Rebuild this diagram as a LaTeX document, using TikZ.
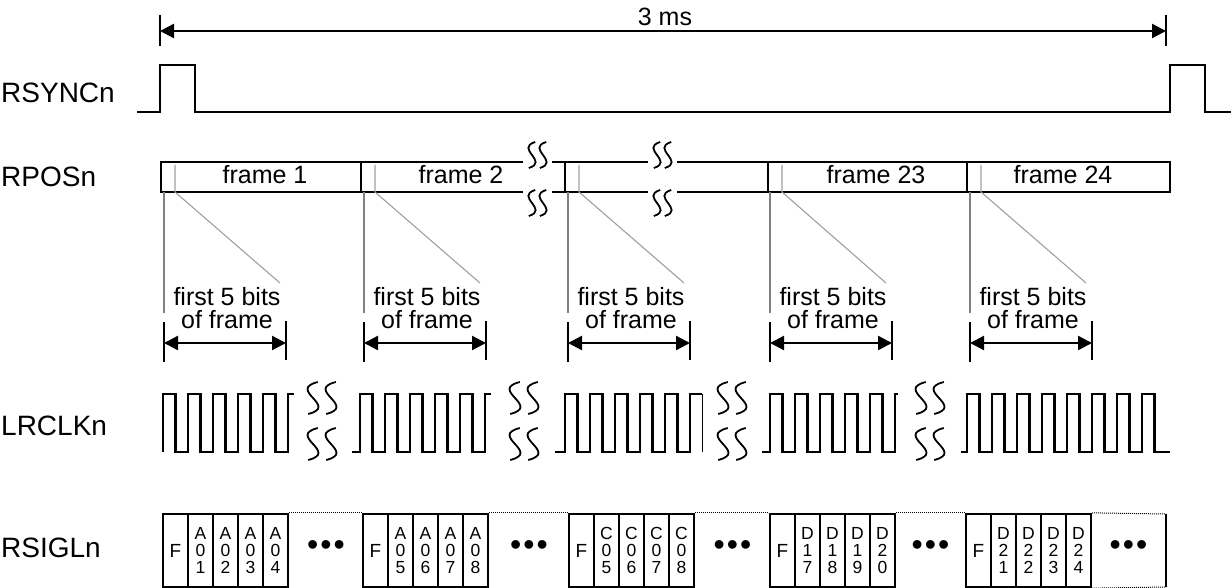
\documentclass[tikz,border=0pt]{standalone}
\usepackage{fontspec}
\setmainfont{Liberation Sans}
\usetikzlibrary{arrows.meta}
\tikzset{
	sig/.style   = {line width=2.3pt},
	cell/.style  = {draw, line width=2.3pt, minimum width=25pt, minimum height=73pt,
		inner sep=0pt, align=center, font=\fontsize{17.5}{17}\selectfont},
	fcell/.style = {cell, font=\fontsize{19}{19}\selectfont},
	lbl/.style   = {anchor=west, inner sep=0pt, font=\fontsize{28}{30}\selectfont},
	txt/.style   = {inner sep=0pt, align=center, font=\fontsize{25}{23}\selectfont},
	more/.style  = {inner sep=0pt, font=\fontsize{32}{32}\selectfont},
	dim/.style   = {line width=2.3pt, {Triangle[length=14pt,width=14pt]}-{Triangle[length=14pt,width=14pt]}},
	guide/.style = {gray, line width=1.8pt},
	hint/.style  = {gray!75, line width=1.1pt},
	brk/.style   = {line width=1.8pt},
	gap/.style   = {densely dotted, line width=1pt}
}
% one S of a break mark: centre x, centre y, bow, half height
\newcommand{\wavy}[4]{\draw[brk] (#1+0.4*#3,#2-#4) .. controls (#1-2.2*#3,#2-0.5*#4) and (#1+2.2*#3,#2+0.5*#4) .. (#1-0.4*#3,#2+#4);}
% first 5 bits of one frame: divider x, start of bracket x
\newcommand{\firstbits}[2]{
	\draw[guide] (#2,192) -- (#2,313);
	\draw[hint] (#1+14,165) -- (#1+14,192) -- (#2+116,283);
	\draw[sig] (#2,322) -- (#2,362) (#2+122,321) -- (#2+122,360);
	\draw[dim] (#2,343) -- (#2+122,343);
	\node[txt] at (#2+63,308) {first 5 bits\\of frame};
}

\begin{document}
\begin{tikzpicture}[x=1pt, y=-1pt]
	\useasboundingbox (0,0) rectangle (1231,588);
	\draw
	node at (1,93)  [lbl] (rsync) {RSYNCn}
	node at (1,177) [lbl] (rpos)  {RPOSn}
	node at (1,426) [lbl] (lrclk) {LRCLKn}
	node at (1,548) [lbl] (rsigl) {RSIGLn}
	node at (665,17) [txt] (period) {3 ms}
	node at (265,175) [txt] (fr1)  {frame 1}
	node at (461,175) [txt] (fr2)  {frame 2}
	node at (876,175) [txt] (fr23) {frame 23}
	node at (1063,175) [txt] (fr24) {frame 24}
	;
	% 3 ms
	\coordinate (t0) at (160,31);
	\coordinate (t1) at (1166,31);
	\draw[sig] (160,15) -- (160,46) (1166,15) -- (1166,46);
	\draw[dim] (t0) -- (t1);
	% RSYNCn
	\draw[sig] (137,112) -- (160,112) -- (160,65) -- (195,65) -- (195,112)
		-- (1170,112) -- (1170,65) -- (1205,65) -- (1205,112) -- (1231,112);
	% RPOSn
	\draw[sig] (523,162) -- (161,162) -- (161,192) -- (523,192);
	\draw[sig] (552,162) -- (648,162) (677,162) -- (1170,162) -- (1170,192) -- (677,192) (648,192) -- (552,192);
	\draw[sig] (361,162) -- (361,192) (565,162) -- (565,192) (768,162) -- (768,192) (967,162) -- (967,192);
	\wavy{532}{155}{8}{13} \wavy{543}{155}{8}{13}
	\wavy{532}{203}{8}{13} \wavy{543}{203}{8}{13}
	\wavy{657}{155}{8}{13} \wavy{668}{155}{8}{13}
	\wavy{657}{203}{8}{13} \wavy{668}{203}{8}{13}
	\firstbits{161}{164}
	\firstbits{361}{364}
	\firstbits{565}{568}
	\firstbits{768}{770}
	\firstbits{967}{970}
	% LRCLKn
	\draw[sig] (163,452) -- (163,394) \foreach \i in {1,...,5}{-- ++(12.5,0) -- ++(0,58) -- ++(12.5,0) -- ++(0,-58)} -- ++(6,0);
	\draw[sig] (352,452) -- (360,452) -- (360,394) \foreach \i in {1,...,5}{-- ++(12.5,0) -- ++(0,58) -- ++(12.5,0) -- ++(0,-58)} -- ++(6,0);
	\draw[sig] (555,452) -- (565,452) -- (565,394) \foreach \i in {1,...,5}{-- ++(12.5,0) -- ++(0,58) -- ++(12.5,0) -- ++(0,-58)} -- (702,394);
	\draw[line width=1pt] (702,394) -- (702,452);
	\draw[sig] (762,452) -- (770,452) -- (770,394) \foreach \i in {1,...,5}{-- ++(12.5,0) -- ++(0,58) -- ++(12.5,0) -- ++(0,-58)} -- ++(3,0);
	\draw[sig] (961,452) -- (967,452) -- (967,394) \foreach \i in {1,...,7}{-- ++(12.5,0) -- ++(0,58) -- ++(12.5,0) -- ++(0,-58)} -- ++(12.5,0) -- ++(0,58) -- (1170,452);
	\wavy{313}{398}{12}{16} \wavy{331}{398}{12}{16} \wavy{313}{444}{12}{16} \wavy{331}{444}{12}{16}
	\wavy{515}{398}{12}{16} \wavy{533}{398}{12}{16} \wavy{515}{444}{12}{16} \wavy{533}{444}{12}{16}
	\wavy{723}{398}{12}{16} \wavy{741}{398}{12}{16} \wavy{723}{444}{12}{16} \wavy{741}{444}{12}{16}
	\wavy{921}{398}{12}{16} \wavy{939}{398}{12}{16} \wavy{921}{444}{12}{16} \wavy{939}{444}{12}{16}
	% RSIGLn
	\draw
	node at (175.5,550.5) [fcell] (f1) {F}
	node at (200.5,550.5) [cell] (a01) {A\\0\\1}
	node at (225.5,550.5) [cell] (a02) {A\\0\\2}
	node at (250.5,550.5) [cell] (a03) {A\\0\\3}
	node at (275.5,550.5) [cell] (a04) {A\\0\\4}
	node at (375.5,550.5) [fcell] (f2) {F}
	node at (400.5,550.5) [cell] (a05) {A\\0\\5}
	node at (425.5,550.5) [cell] (a06) {A\\0\\6}
	node at (450.5,550.5) [cell] (a07) {A\\0\\7}
	node at (475.5,550.5) [cell] (a08) {A\\0\\8}
	node at (581.5,550.5) [fcell] (f3) {F}
	node at (606.5,550.5) [cell] (c05) {C\\0\\5}
	node at (631.5,550.5) [cell] (c06) {C\\0\\6}
	node at (656.5,550.5) [cell] (c07) {C\\0\\7}
	node at (681.5,550.5) [cell] (c08) {C\\0\\8}
	node at (782.5,550.5) [fcell] (f4) {F}
	node at (807.5,550.5) [cell] (d17) {D\\1\\7}
	node at (832.5,550.5) [cell] (d18) {D\\1\\8}
	node at (857.5,550.5) [cell] (d19) {D\\1\\9}
	node at (882.5,550.5) [cell] (d20) {D\\2\\0}
	node at (978.5,550.5) [fcell] (f5) {F}
	node at (1003.5,550.5) [cell] (d21) {D\\2\\1}
	node at (1028.5,550.5) [cell] (d22) {D\\2\\2}
	node at (1053.5,550.5) [cell] (d23) {D\\2\\3}
	node at (1078.5,550.5) [cell] (d24) {D\\2\\4}
	node at (326,548)  [more] (more1) {•\hspace{2pt}•\hspace{2pt}•}
	node at (529,548)  [more] (more2) {•\hspace{2pt}•\hspace{2pt}•}
	node at (732.5,548) [more] (more3) {•\hspace{2pt}•\hspace{2pt}•}
	node at (930.5,548) [more] (more4) {•\hspace{2pt}•\hspace{2pt}•}
	node at (1128.5,548) [more] (more5) {•\hspace{2pt}•\hspace{2pt}•}
	;
	\draw[gap] (a04.north east) -- (f2.north west) (a04.south east) -- (f2.south west);
	\draw[gap] (a08.north east) -- (f3.north west) (a08.south east) -- (f3.south west);
	\draw[gap] (c08.north east) -- (f4.north west) (c08.south east) -- (f4.south west);
	\draw[gap] (d20.north east) -- (f5.north west) (d20.south east) -- (f5.south west);
	\draw[gap] (d24.north east) -- (1166,514) (d24.south east) -- (1166,587);
	\draw[sig] (1166,514) -- (1166,587);
\end{tikzpicture}
\end{document}
